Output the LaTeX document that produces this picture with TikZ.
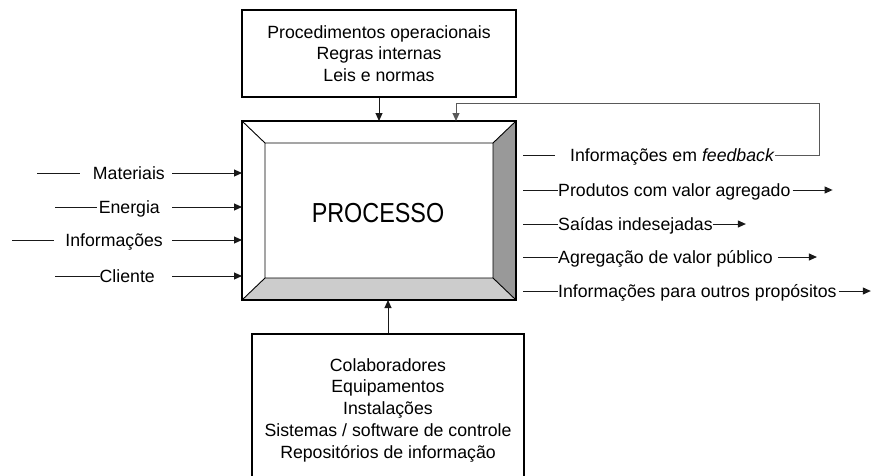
\documentclass[tikz,border=0pt]{standalone}
\usepackage{fontspec}
\setmainfont{Liberation Sans}
\newfontfamily\procfont[FakeStretch=0.85]{Liberation Sans}
\usetikzlibrary{arrows.meta, positioning}

\begin{document}
\begin{tikzpicture}[x=1pt, y=-1pt, >={Triangle[length=8pt,width=7pt]},
        font=\fontsize{17.7}{21.75}\selectfont,
        lbl/.style={inner sep=0pt, anchor=base west},
        conn/.style={draw=black!90, line width=1pt},
        box/.style={draw, line width=1.1pt, align=center, inner sep=0pt}]
        \useasboundingbox (0,0) rectangle (877,475);

        % the process block
        \coordinate (o1) at (242,121); \coordinate (o2) at (516,121);
        \coordinate (o3) at (516,300); \coordinate (o4) at (242,300);
        \coordinate (i1) at (265,143); \coordinate (i2) at (493,143);
        \coordinate (i3) at (493,278); \coordinate (i4) at (265,278);
        \fill[black!40] (o2) -- (o3) -- (i3) -- (i2) -- cycle;
        \fill[black!20] (o3) -- (o4) -- (i4) -- (i3) -- cycle;
        \draw[line width=0.9pt] (i1) rectangle (i3) (o1) -- (i1) (o2) -- (i2) (o3) -- (i3) (o4) -- (i4);
        \draw[line width=1.3pt] (o1) rectangle (o3);
        \node[font=\procfont\fontsize{27.5}{30}\selectfont, anchor=base] (proc) at (378,222) {PROCESSO};

        % controls and resources
        \node[box, minimum width=274pt, minimum height=87pt] (ctrl) at (379,53.5)
            {Procedimentos operacionais\\Regras internas\\Leis e normas};
        \node[box, minimum width=272pt, minimum height=152pt] (res) at (388,410)
            {Colaboradores\\Equipamentos\\Instalações\\Sistemas / software de controle\\Repositórios de informação};
        \draw[conn,->] (ctrl.south) -- (ctrl.south |- o1);
        \draw[conn,->] (res.north) -- (res.north |- o4);

        % inputs
        \foreach \nm/\txt/\y/\tx/\lx/\gap in {mat/Materiais/173/165/37/13pt, ene/Energia/207/160/55/2pt,
            inf/Informações/240/163/12/11pt, cli/Cliente/276/155/55/0pt}
        {
            \node[lbl, anchor=base east] (\nm) at (\tx,{\y+6.4}) {\txt};
            \coordinate (\nm-a) at (\lx,\y);
            \coordinate (\nm-b) at (172,\y);
            \draw[conn] (\nm-a) -- ([xshift=-\gap]\nm.west |- \nm-a);
            \draw[conn,->] (\nm-b) -- (\nm-b -| o1);
        }

        % outputs
        \foreach \nm/\txt/\y/\gap/\len in {prod/Produtos com valor agregado/190/2pt/40,
            said/Saídas indesejadas/224/0pt/33, agr/Agregação de valor público/257/5pt/39,
            outr/Informações para outros propósitos/291/2pt/32}
        {
            \node[lbl] (\nm) at (558,{\y+6.4}) {\txt};
            \coordinate (\nm-a) at (523,\y);
            \draw[conn] (\nm-a) -- (\nm.west |- \nm-a);
            \draw[conn,->] ([xshift=\gap]\nm.east |- \nm-a) -- ++(\len,0);
        }

        % feedback loop
        \node[lbl] (fb) at (570,161.4) {Informações em \textit{feedback}};
        \coordinate (fb-a) at (523,155);
        \coordinate (fb-top) at (456,103);
        \draw[conn] (fb-a) -- ++(32,0);
        \draw[conn, draw=black!65, ->] (fb.east |- fb-a) -- ++(45,0) |- (fb-top) -- (fb-top |- o1);
    \end{tikzpicture}
\end{document}
